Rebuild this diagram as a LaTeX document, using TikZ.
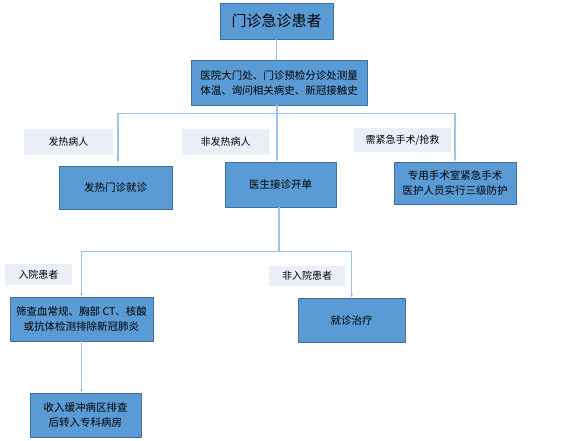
\documentclass[tikz,border=0pt]{standalone}
\usepackage{fontspec}
\setmainfont{Noto Sans CJK SC}
\usetikzlibrary{arrows.meta, positioning, calc}
\definecolor{BoxBlue}{HTML}{5B9BD5}
\definecolor{BoxEdge}{HTML}{41719C}
\definecolor{LinkBlue}{HTML}{9DC3E6}
\definecolor{TagGray}{HTML}{EAEFF7}

\begin{document}
\begin{tikzpicture}[x=1pt, y=-1pt, >={Stealth[length=4pt, width=3pt]},
    box/.style={draw=BoxEdge, fill=BoxBlue, line width=0.8pt, align=center,
        inner sep=0pt, font=\fontsize{10.5}{15}\selectfont},
    tag/.style={fill=TagGray, inner sep=0pt, font=\fontsize{10}{12}\selectfont},
    link/.style={draw=LinkBlue, line width=1.2pt}]
        \useasboundingbox (0,0) rectangle (568,440);
        % Main boxes
        \node[box, minimum width=113pt, minimum height=36pt, font=\fontsize{15}{18}\selectfont] (patient) at (276.5,21) {门诊急诊患者};
        \node[box, minimum width=176pt, minimum height=45pt] (check) at (279,82.5) {医院大门处、门诊预检分诊处测量\\体温、询问相关病史、新冠接触史};
        \node[box, minimum width=113pt, minimum height=43pt] (fever) at (115.5,187.5) {发热门诊就诊};
        \node[box, minimum width=111pt, minimum height=45pt] (doctor) at (280.5,184.5) {医生接诊开单};
        \node[box, minimum width=122pt, minimum height=42pt] (surgery) at (455,183) {专用手术室紧急手术\\医护人员实行三级防护};
        \node[box, minimum width=143pt, minimum height=44pt] (screen) at (81.5,319) {筛查血常规、胸部 CT、核酸\\或抗体检测排除新冠肺炎};
        \node[box, minimum width=107pt, minimum height=44pt] (treat) at (351.5,320) {就诊治疗};
        \node[box, minimum width=111pt, minimum height=44pt] (ward) at (85.5,415) {收入缓冲病区排查\\后转入专科病房};

        % Branch labels
        \node[tag, minimum width=89pt, minimum height=26pt] (tagfever) at (68.5,142) {发热病人};
        \node[tag, minimum width=87pt, minimum height=26pt] (tagnofever) at (225.5,142) {非发热病人};
        \node[tag, minimum width=97pt, minimum height=24pt] (tagsurgery) at (402.5,140) {需紧急手术/抢救};
        \node[tag, minimum width=67pt, minimum height=21pt] (tagin) at (38.5,274.5) {入院患者};
        \node[tag, minimum width=76pt, minimum height=20pt] (tagout) at (307,276) {非入院患者};

        % Connectors
        \coordinate (split1) at ([xshift=-2pt, yshift=-8pt]check.south);
        \coordinate (split2) at ([xshift=-1.5pt, yshift=-44pt]doctor.south);
        \draw[link] (patient.south) -- (patient.south |- check.north);
        \draw[link] (split1 |- check.south) -- (split1);
        \draw[link, ->] (split1) -| ([xshift=2.5pt, yshift=3pt]fever.north);
        \draw[link, ->] (split1) -- (split1 |- doctor.north);
        \draw[link, ->] (split1) -| (surgery.north);
        \draw[link] (split2 |- doctor.south) -- (split2);
        \draw[link, ->] (split2) -| (screen.north);
        \draw[link, ->] (split2) -| (treat.north);
        \draw[link, ->] (screen.south) -- (screen.south |- ward.north);
    \end{tikzpicture}
\end{document}
